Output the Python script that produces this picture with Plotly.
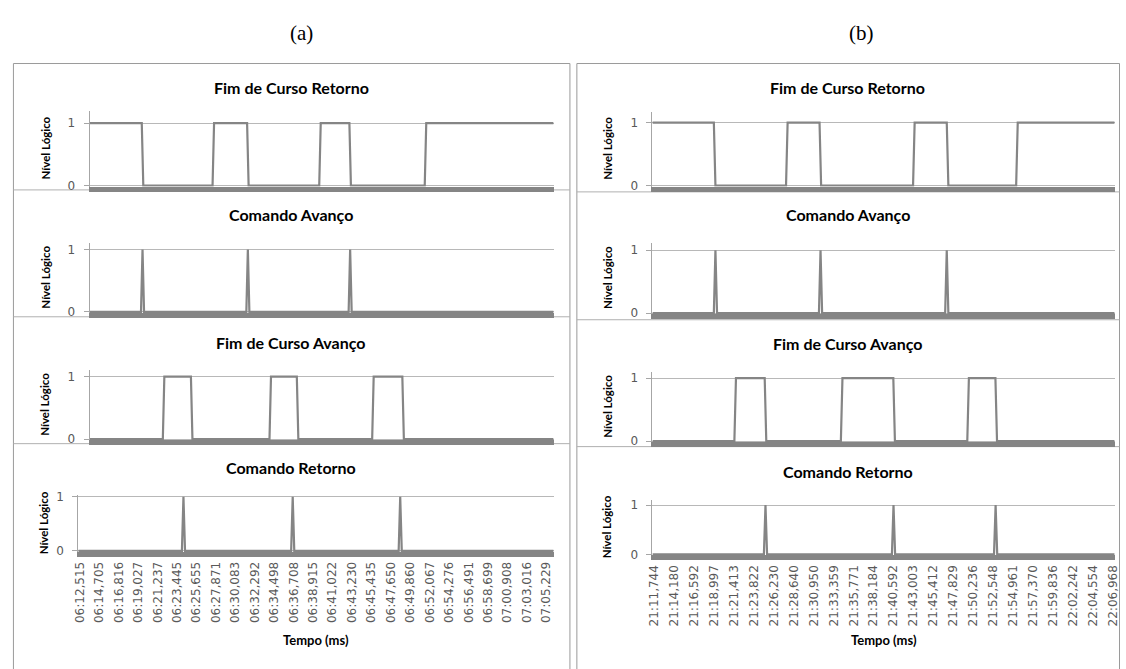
import plotly.graph_objects as go

W, H = 1126, 669

# ---------------- data ----------------
ticks_a = ["06:12,515", "06:14,705", "06:16,816", "06:19,027", "06:21,237", "06:23,445",
           "06:25,655", "06:27,871", "06:30,083", "06:32,292", "06:34,498", "06:36,708",
           "06:38,915", "06:41,022", "06:43,230", "06:45,435", "06:47,650", "06:49,860",
           "06:52,067", "06:54,276", "06:56,491", "06:58,699", "07:00,908", "07:03,016",
           "07:05,229"]
ticks_b = ["21:11,744", "21:14,180", "21:16,592", "21:18,997", "21:21,413", "21:23,822",
           "21:26,230", "21:28,640", "21:30,950", "21:33,359", "21:35,771", "21:38,184",
           "21:40,592", "21:43,003", "21:45,412", "21:47,829", "21:50,236", "21:52,548",
           "21:54,961", "21:57,370", "21:59,836", "22:02,242", "22:04,554", "22:06,968"]

titles = ["Fim de Curso Retorno", "Comando Avanço", "Fim de Curso Avanço", "Comando Retorno"]

# signal transitions, in units of tick-label index
a_fcr_start = 1
a_fcr_edges = [2.71, 6.44, 8.26, 12.06, 13.65, 17.62]
a_cav_pulses = [2.71, 8.26, 13.65]
a_fca_start = 0
a_fca_edges = [3.82, 5.30, 9.44, 10.88, 14.85, 16.44]
a_cre_pulses = [5.33, 10.95, 16.48]

b_fcr_start = 1
b_fcr_edges = [3.03, 6.65, 8.33, 13.02, 14.71, 18.19]
b_cav_pulses = [3.07, 8.34, 14.67]
b_fca_start = 0
b_fca_edges = [4.06, 5.58, 9.40, 12.03, 15.74, 17.15]
b_cre_pulses = [5.58, 12.00, 17.12]

xrange_a = [-0.08, 24.37]
xrange_b = [-0.09, 23.09]


def step_wave(edges, start, x0, x1, ramp=0.08):
    xs, ys, lvl = [x0], [start], start
    for e in edges:
        xs += [e - ramp / 2, e + ramp / 2]
        ys += [lvl, 1 - lvl]
        lvl = 1 - lvl
    xs.append(x1)
    ys.append(lvl)
    return xs, ys


def pulse_wave(pulses, x0, x1, ramp=0.08):
    xs, ys = [x0], [0]
    for p in pulses:
        xs += [p - ramp, p, p + ramp]
        ys += [0, 1, 0]
    xs.append(x1)
    ys.append(0)
    return xs, ys


waves = [
    step_wave(a_fcr_edges, a_fcr_start, *xrange_a),
    pulse_wave(a_cav_pulses, *xrange_a),
    step_wave(a_fca_edges, a_fca_start, *xrange_a),
    pulse_wave(a_cre_pulses, *xrange_a),
    step_wave(b_fcr_edges, b_fcr_start, *xrange_b),
    pulse_wave(b_cav_pulses, *xrange_b),
    step_wave(b_fca_edges, b_fca_start, *xrange_b),
    pulse_wave(b_cre_pulses, *xrange_b),
]

# ---------------- layout geometry (pixels) ----------------
def px(x):
    return x / W


def py(y):
    return 1 - y / H


YMIN = -0.02
# (x0, x1, y0_px, px_per_unit, ymax, title_y, box_center, ylabel_x)
specs = [
    (84.4, 553.0, 183.5, 63.5, 1.19, 84, 288, 39.5),
    (84.4, 553.0, 312.0, 63.5, 1.10, 213, 288, 39.5),
    (84.4, 553.0, 441.3, 63.5, 1.10, 343, 288, 39.5),
    (73.0, 553.0, 555.0, 55.0, 1.04, 470, 288, 38.0),
    (652.8, 1119.6, 183.5, 64.0, 1.17, 84, 850, 608.0),
    (652.8, 1119.6, 313.3, 64.0, 1.12, 213, 850, 608.0),
    (652.8, 1119.6, 443.3, 64.0, 1.09, 344, 850, 608.0),
    (652.8, 1119.6, 558.5, 50.0, 1.10, 474, 850, 606.0),
]

LINE_COLOR = "#858585"
GRID_COLOR = "#b8b8b8"
AX_COLOR = "#a6a6a6"
TXT_COLOR = "#595959"
TITLE_FONT = dict(family="Lato, Noto Sans, sans-serif", size=16, color="#000000")

fig = go.Figure()
annotations = []
shapes = []

for k, (spec, (xs, ys)) in enumerate(zip(specs, waves), start=1):
    x0, x1, y0, ppu, ymax, ty, bc, ylx = spec
    bottom = y0 - YMIN * ppu
    top = y0 - ymax * ppu
    xn = "x" if k == 1 else f"x{k}"
    yn = "y" if k == 1 else f"y{k}"
    fig.add_trace(go.Scatter(x=xs, y=ys, mode="lines", xaxis=xn, yaxis=yn,
                             line=dict(color=LINE_COLOR, width=2.2),
                             showlegend=False, hoverinfo="skip"))
    is_a = k <= 4
    last = k in (4, 8)
    xr = xrange_a if is_a else xrange_b
    tl = ticks_a if is_a else ticks_b
    xa = dict(domain=[px(x0), px(x1)], anchor=yn, range=xr, showgrid=False,
              zeroline=False, showline=True, linewidth=5, linecolor=LINE_COLOR,
              ticks="", fixedrange=True)
    if last:
        xa.update(tickmode="array", tickvals=list(range(len(tl))), ticktext=tl,
                  tickangle=-90, showticklabels=True,
                  tickfont=dict(family="DejaVu Sans", size=12, color=TXT_COLOR))
        annotations.append(dict(text="<b>Tempo (ms)</b>", xref="paper", yref="paper",
                                x=px((x0 + x1) / 2), y=py(646), xanchor="center",
                                yanchor="middle", showarrow=False,
                                font=dict(family="Lato, sans-serif", size=13, color="#000")))
    else:
        xa.update(showticklabels=False)
    ya = dict(domain=[py(bottom), py(top)], anchor=xn, range=[YMIN, ymax],
              tickmode="array", tickvals=[0, 1], ticktext=["0", "1"],
              showgrid=True, gridcolor=GRID_COLOR, gridwidth=1, zeroline=False,
              showline=True, linewidth=1, linecolor=AX_COLOR,
              ticks="outside", ticklen=5, tickcolor=AX_COLOR, tickwidth=1,
              ticklabelstandoff=6,
              tickfont=dict(family="DejaVu Sans", size=12, color=TXT_COLOR),
              fixedrange=True)
    key = "" if k == 1 else str(k)
    fig.layout["xaxis" + key] = xa
    fig.layout["yaxis" + key] = ya

    annotations.append(dict(text="<b>" + titles[(k - 1) % 4] + "</b>", xref="paper", yref="paper",
                            x=px(bc), y=py(ty), xanchor="center", yanchor="middle",
                            showarrow=False, font=TITLE_FONT))
    annotations.append(dict(text="<b>Nível Lógico</b>", xref="paper", yref="paper",
                            x=px(ylx), y=py((y0 + top) / 2), xanchor="center", yanchor="middle",
                            textangle=-90, showarrow=False,
                            font=dict(family="Lato, sans-serif", size=11.5, color="#000")))

# panel labels
for lab, xc in (("(a)", 298), ("(b)", 864)):
    annotations.append(dict(text=lab, xref="paper", yref="paper", x=px(xc), y=py(28),
                            xanchor="center", yanchor="middle", showarrow=False,
                            font=dict(family="Liberation Serif, serif", size=21, color="#000")))

# frames and separators
BORDER = "#9a9a9a"
SEP = "#b0b0b0"
for (bx0, bx1, seps) in ((7.5, 569.5, (188, 317, 446)), (576.5, 1124.5, (190, 320, 449))):
    shapes.append(dict(type="rect", xref="paper", yref="paper",
                       x0=px(bx0), x1=px(bx1), y0=py(680), y1=py(59.5),
                       line=dict(color=BORDER, width=1), fillcolor="rgba(0,0,0,0)", layer="below"))
    for s in seps:
        shapes.append(dict(type="line", xref="paper", yref="paper",
                           x0=px(bx0), x1=px(bx1), y0=py(s), y1=py(s),
                           line=dict(color=SEP, width=1), layer="below"))

fig.update_layout(width=W, height=H, margin=dict(l=0, r=0, t=0, b=0),
                  paper_bgcolor="white", plot_bgcolor="white",
                  annotations=annotations, shapes=shapes, showlegend=False)

fig.write_html("out.html", config={"displayModeBar": False, "staticPlot": True},
               post_script="document.body.style.margin='0';document.body.style.overflow='hidden';")
